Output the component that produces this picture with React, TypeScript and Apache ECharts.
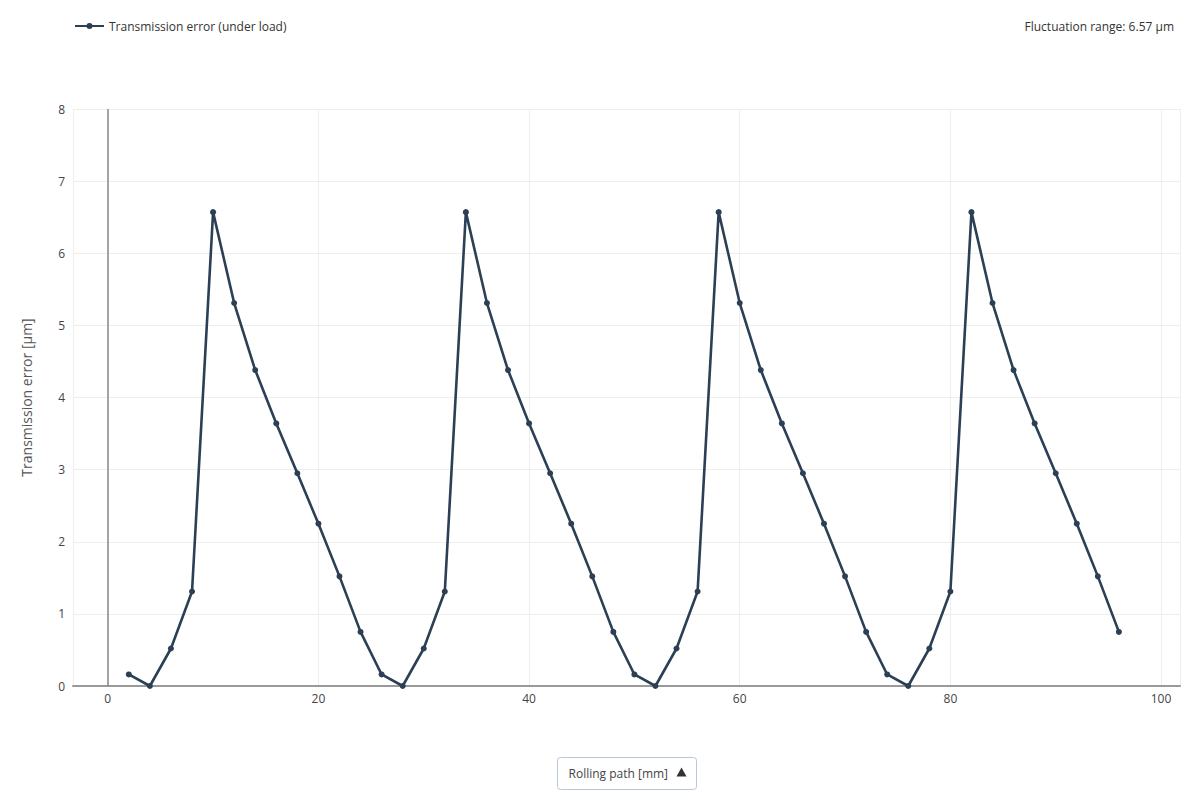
import React, { useEffect, useRef } from "react";
import * as echarts from "echarts";

const rollingPath = [
  2, 4, 6, 8, 10, 12, 14, 16, 18, 20, 22, 24,
  26, 28, 30, 32, 34, 36, 38, 40, 42, 44, 46, 48,
  50, 52, 54, 56, 58, 60, 62, 64, 66, 68, 70, 72,
  74, 76, 78, 80, 82, 84, 86, 88, 90, 92, 94, 96,
];
const transmissionError = [
  0.16, 0, 0.52, 1.31, 6.57, 5.31, 4.38, 3.64, 2.95, 2.25, 1.52, 0.75,
  0.16, 0, 0.52, 1.31, 6.57, 5.31, 4.38, 3.64, 2.95, 2.25, 1.52, 0.75,
  0.16, 0, 0.52, 1.31, 6.57, 5.31, 4.38, 3.64, 2.95, 2.25, 1.52, 0.75,
  0.16, 0, 0.52, 1.31, 6.57, 5.31, 4.38, 3.64, 2.95, 2.25, 1.52, 0.75,
];
const seriesName = "Transmission error (under load)";
const yAxisTitle = "Transmission error [µm]";
const xAxisTitle = "Rolling path [mm]";
const fluctuationText = "Fluctuation range: 6.57 µm";

const FONT = "'Open Sans', 'Noto Sans', sans-serif";
const LINE_COLOR = "#2b3f55";

export default function App() {
  const ref = useRef<HTMLDivElement>(null);
  useEffect(() => {
    if (!ref.current) return;
    const chart = echarts.init(ref.current, undefined, { renderer: "svg" });
    chart.setOption({
      animation: false,
      textStyle: { fontFamily: FONT },
      grid: { left: 73, right: 20, top: 109, bottom: 114, containLabel: false },
      legend: {
        left: 70,
        top: 15,
        itemWidth: 29,
        itemHeight: 12,
        itemGap: 10,
        textStyle: { fontFamily: FONT, fontSize: 12, color: "#333" },
        data: [
          {
            name: seriesName,
            icon:
              "path://M0,5 L12,5 L12,7 L0,7 Z M17,5 L29,5 L29,7 L17,7 Z M11.5,6 a3,3 0 1,1 6,0 a3,3 0 1,1 -6,0 Z",
          },
        ],
      },
      xAxis: {
        type: "value",
        min: -3.3,
        max: 101.8,
        splitNumber: 5,
        axisLine: { show: true, onZero: false, lineStyle: { color: "#999", width: 2 } },
        axisTick: { show: false },
        axisLabel: {
          color: "#444",
          fontSize: 12,
          fontFamily: FONT,
          margin: 6,
          showMinLabel: false,
          showMaxLabel: false,
          formatter: (v: number) => (Math.abs(v % 20) < 1e-6 ? String(v) : ""),
        },
        splitLine: { show: true, lineStyle: { color: "#eeeeee", width: 1 } },
      },
      yAxis: {
        type: "value",
        min: 0,
        max: 8,
        interval: 1,
        name: yAxisTitle,
        nameLocation: "middle",
        nameGap: 40,
        nameTextStyle: { color: "#555", fontSize: 14, fontFamily: FONT },
        axisLine: { show: false, onZero: false },
        axisTick: { show: false },
        axisLabel: { color: "#444", fontSize: 12, fontFamily: FONT, margin: 8 },
        splitLine: { show: true, lineStyle: { color: "#eeeeee", width: 1 } },
      },
      series: [
        {
          name: seriesName,
          type: "line",
          data: rollingPath.map((x, i) => [x, transmissionError[i]]),
          symbol: "circle",
          symbolSize: 6,
          showSymbol: true,
          lineStyle: { color: LINE_COLOR, width: 2.6 },
          itemStyle: { color: LINE_COLOR },
          z: 3,
          markLine: {
            silent: true,
            symbol: "none",
            label: { show: false },
            lineStyle: { color: "#888", width: 1.5, type: "solid" },
            data: [{ xAxis: 0 }],
            z: 1,
          },
        },
      ],
      graphic: [
        {
          type: "text",
          right: 26,
          top: 20,
          style: { text: fluctuationText, fill: "#333", fontSize: 12, fontFamily: FONT },
        },
        {
          type: "group",
          left: 557,
          top: 757,
          children: [
            {
              type: "rect",
              shape: { x: 0, y: 0, width: 139, height: 32, r: 3 },
              style: { fill: "#fff", stroke: "#b9c6d8", lineWidth: 1 },
            },
            {
              type: "text",
              x: 11,
              y: 16,
              style: {
                text: xAxisTitle,
                fill: "#444",
                fontSize: 12,
                fontFamily: FONT,
                verticalAlign: "middle",
              },
            },
            {
              type: "polygon",
              shape: { points: [[124, 10], [129, 19], [119, 19]] },
              style: { fill: "#333" },
            },
          ],
        },
      ],
    });
    return () => chart.dispose();
  }, []);
  return <div ref={ref} style={{ width: 1200, height: 800, margin: -8 }} />;
}
